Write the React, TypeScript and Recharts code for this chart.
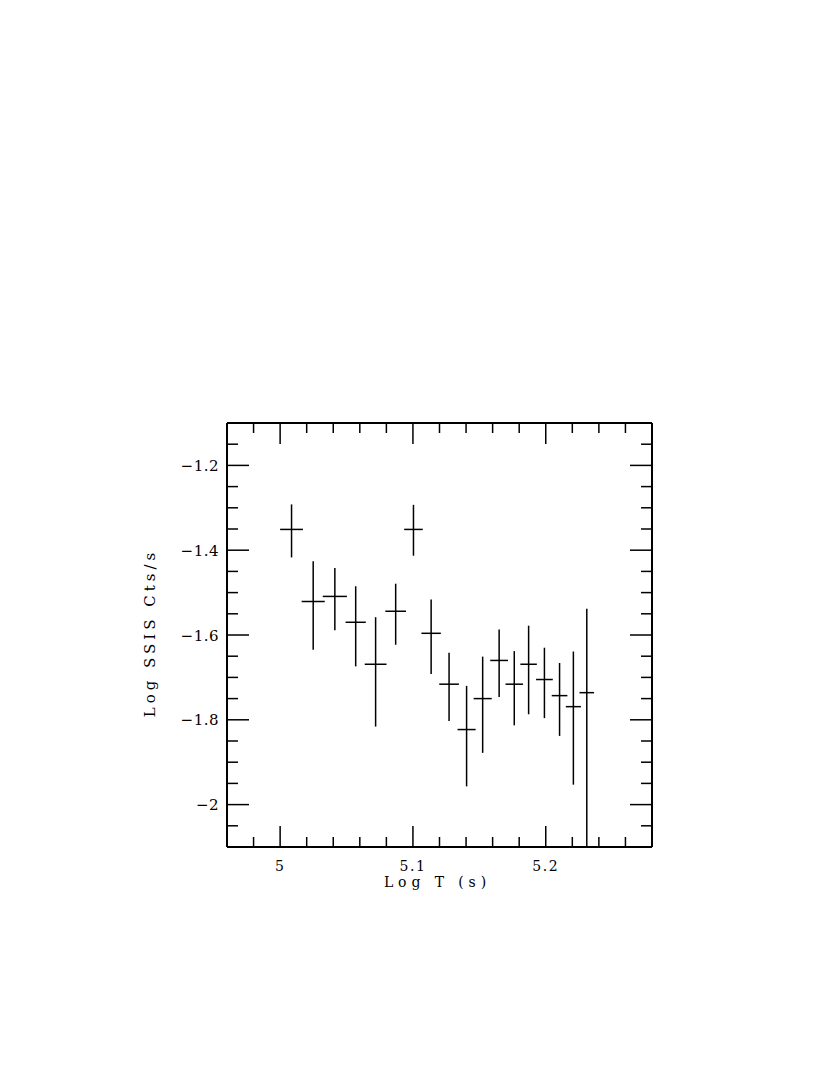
import React from 'react';
import { ScatterChart, Scatter, XAxis, YAxis, ErrorBar } from 'recharts';

// Log time of each bin and its half width
const logT = [5.0086, 5.0249, 5.0412, 5.0569, 5.0719, 5.087, 5.1004, 5.1137, 5.1272, 5.1404, 5.1525, 5.1649, 5.1763, 5.1871, 5.199, 5.2104, 5.2208, 5.2309];
const tHalfWidth = [0.0086, 0.0087, 0.0091, 0.0076, 0.0082, 0.0078, 0.007, 0.0073, 0.0074, 0.0068, 0.0068, 0.0067, 0.0066, 0.0062, 0.0063, 0.0059, 0.0057, 0.0055];

// Log count rate with upper and lower bounds (last one runs off the bottom of the frame)
const logRate = [-1.351, -1.521, -1.509, -1.57, -1.669, -1.544, -1.351, -1.596, -1.716, -1.823, -1.75, -1.66, -1.716, -1.669, -1.705, -1.743, -1.769, -1.736];
const rateHigh = [-1.292, -1.426, -1.442, -1.485, -1.558, -1.479, -1.293, -1.516, -1.642, -1.72, -1.651, -1.587, -1.638, -1.578, -1.63, -1.666, -1.639, -1.538];
const rateLow = [-1.417, -1.635, -1.589, -1.674, -1.816, -1.623, -1.413, -1.692, -1.803, -1.957, -1.878, -1.746, -1.813, -1.787, -1.796, -1.838, -1.953, -2.1];

const xTicks = [4.98, 5.0, 5.02, 5.04, 5.06, 5.08, 5.1, 5.12, 5.14, 5.16, 5.18, 5.2, 5.22, 5.24, 5.26];
const xLabels = [5, 5.1, 5.2];
const yTicks = [-2.05, -2.0, -1.95, -1.9, -1.85, -1.8, -1.75, -1.7, -1.65, -1.6, -1.55, -1.5, -1.45, -1.4, -1.35, -1.3, -1.25, -1.2, -1.15];
const yLabels = [-2, -1.8, -1.6, -1.4, -1.2];

const data = logT.map((t, i) => ({
  x: t,
  y: logRate[i],
  ex: [tHalfWidth[i], tHalfWidth[i]],
  ey: [logRate[i] - rateLow[i], rateHigh[i] - logRate[i]],
}));

const FONT = 'DejaVu Serif';
const isMajor = (v: number, list: number[]) => list.some((m) => Math.abs(m - v) < 1e-6);
const fmtY = (v: number) => '\u2212' + String(Math.abs(v));

const BottomTick = (props: any) => {
  const { x, y, payload } = props;
  const major = isMajor(payload.value, xLabels);
  return (
    <g>
      <line x1={x} y1={y} x2={x} y2={y - (major ? 21 : 10)} stroke="#000" strokeWidth={1.5} />
      {major && (
        <text x={x} y={y + 24} textAnchor="middle" fontFamily={FONT} fontSize={14} letterSpacing={1.5} fill="#000">
          {String(payload.value)}
        </text>
      )}
    </g>
  );
};

const TopTick = (props: any) => {
  const { x, y, payload } = props;
  const major = isMajor(payload.value, xLabels);
  return <line x1={x} y1={y} x2={x} y2={y + (major ? 21 : 10)} stroke="#000" strokeWidth={1.5} />;
};

const LeftTick = (props: any) => {
  const { x, y, payload } = props;
  const major = isMajor(payload.value, yLabels);
  return (
    <g>
      <line x1={x} y1={y} x2={x + (major ? 22 : 11)} y2={y} stroke="#000" strokeWidth={1.5} />
      {major && (
        <text x={x - 8} y={y + 5.5} textAnchor="end" fontFamily={FONT} fontSize={15} letterSpacing={0.5} fill="#000">
          {fmtY(payload.value)}
        </text>
      )}
    </g>
  );
};

const RightTick = (props: any) => {
  const { x, y, payload } = props;
  const major = isMajor(payload.value, yLabels);
  return <line x1={x} y1={y} x2={x - (major ? 22 : 11)} y2={y} stroke="#000" strokeWidth={1.5} />;
};

const XTitle = (props: any) => {
  const { viewBox } = props;
  return (
    <text x={viewBox.x + viewBox.width / 2 - 2} y={viewBox.y + 40} textAnchor="middle" fontFamily={FONT} fontSize={14} letterSpacing={4.9} fill="#000">
      Log T (s)
    </text>
  );
};

const YTitle = (props: any) => {
  const { viewBox } = props;
  const cx = viewBox.x - 12;
  const cy = viewBox.y + viewBox.height / 2 - 2;
  return (
    <text x={cx} y={cy} transform={`rotate(-90, ${cx}, ${cy})`} textAnchor="middle" fontFamily={FONT} fontSize={15} letterSpacing={4} fill="#000">
      Log SSIS Cts/s
    </text>
  );
};

const App: React.FC = () => {
  return (
    <div style={{ position: 'absolute', left: 0, top: 0, width: 830, height: 1075, background: '#fff' }}>
      <ScatterChart width={830} height={1075} margin={{ top: 413, right: 168, bottom: 168, left: 167 }}>
        <XAxis
          type="number"
          dataKey="x"
          domain={[4.96, 5.28]}
          allowDataOverflow
          ticks={xTicks}
          interval={0}
          tickSize={0}
          tickMargin={0}
          tick={BottomTick}
          height={60}
          axisLine={{ stroke: '#000', strokeWidth: 2 }}
          label={XTitle}
        />
        <XAxis
          xAxisId="top"
          orientation="top"
          type="number"
          dataKey="x"
          domain={[4.96, 5.28]}
          allowDataOverflow
          ticks={xTicks}
          interval={0}
          tickSize={0}
          tickMargin={0}
          tick={TopTick}
          height={10}
          axisLine={{ stroke: '#000', strokeWidth: 2 }}
        />
        <YAxis
          type="number"
          dataKey="y"
          domain={[-2.1, -1.1]}
          allowDataOverflow
          ticks={yTicks}
          interval={0}
          tickSize={0}
          tickMargin={0}
          tick={LeftTick}
          width={60}
          axisLine={{ stroke: '#000', strokeWidth: 2 }}
          label={YTitle}
        />
        <YAxis
          yAxisId="right"
          orientation="right"
          type="number"
          dataKey="y"
          domain={[-2.1, -1.1]}
          allowDataOverflow
          ticks={yTicks}
          interval={0}
          tickSize={0}
          tickMargin={0}
          tick={RightTick}
          width={10}
          axisLine={{ stroke: '#000', strokeWidth: 2 }}
        />
        <Scatter data={data} shape={() => <g />} isAnimationActive={false}>
          <ErrorBar dataKey="ex" direction="x" width={0} stroke="#000" strokeWidth={1.5} />
          <ErrorBar dataKey="ey" direction="y" width={0} stroke="#000" strokeWidth={1.5} />
        </Scatter>
      </ScatterChart>
    </div>
  );
};

export default App;
